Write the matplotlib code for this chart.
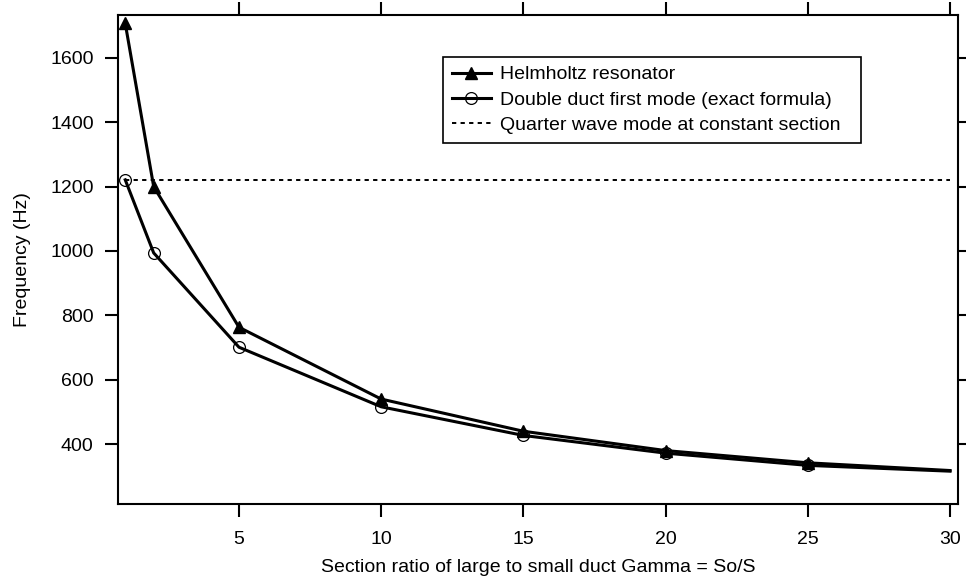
import matplotlib
matplotlib.use('Agg')
import matplotlib.pyplot as plt

plt.rcParams['font.family'] = ['Liberation Sans', 'DejaVu Sans']
plt.rcParams['font.size'] = 14

# Section ratio Gamma = So/S
gamma = [1, 2, 5, 10, 15, 20, 25, 30]
helmholtz = [1707, 1200, 763, 540, 440, 380, 342, 318]
double_duct = [1221, 994, 701, 516, 427, 372, 334, 316]
quarter_wave = 1221

fig = plt.figure(figsize=(9.66, 5.82), dpi=100)
ax = fig.add_axes([0.1222, 0.134, 0.8695, 0.8402])

# Markers everywhere except the last point
marks = list(range(len(gamma) - 1))

l1, = ax.plot(gamma, helmholtz, color='black', lw=2.2, marker='^', markersize=8.5,
              markevery=marks, label='Helmholtz resonator')
l2, = ax.plot(gamma, double_duct, color='black', lw=2.2, marker='o', markersize=8.5,
              markerfacecolor='none', markeredgewidth=0.9, markevery=marks,
              label='Double duct first mode (exact formula)')
l3, = ax.plot([gamma[0], gamma[-1]], [quarter_wave, quarter_wave], color='black',
              lw=1.4, linestyle=(0, (2.2, 2.2)),
              label='Quarter wave mode at constant section')

ax.set_xlim(0.747, 30.28)
ax.set_ylim(214, 1733)
ax.set_xticks([5, 10, 15, 20, 25, 30])
ax.set_yticks([400, 600, 800, 1000, 1200, 1400, 1600])

# Ticks outward on all four sides, labels only bottom and left
ax.tick_params(direction='out', length=9.5, width=1.5, top=True, right=True,
               labeltop=False, labelright=False)
ax.tick_params(axis='x', pad=10)
ax.tick_params(axis='y', pad=8)
for s in ax.spines.values():
    s.set_linewidth(1.5)

ax.set_xlabel('Section ratio of large to small duct Gamma = So/S', labelpad=8)
ax.set_ylabel('Frequency (Hz)', labelpad=14)

# legend box stretched to a fixed width, entries left aligned
leg = ax.legend(loc='upper left', bbox_to_anchor=(0.387, 0.614, 0.4976, 0.3),
                mode='expand', borderaxespad=0,
                frameon=True, fancybox=False, edgecolor='black', framealpha=1,
                handlelength=2.0, handletextpad=0.5, labelspacing=0.4,
                borderpad=0.45)
leg.get_frame().set_linewidth(1.2)

plt.savefig('out.png', dpi=100)
